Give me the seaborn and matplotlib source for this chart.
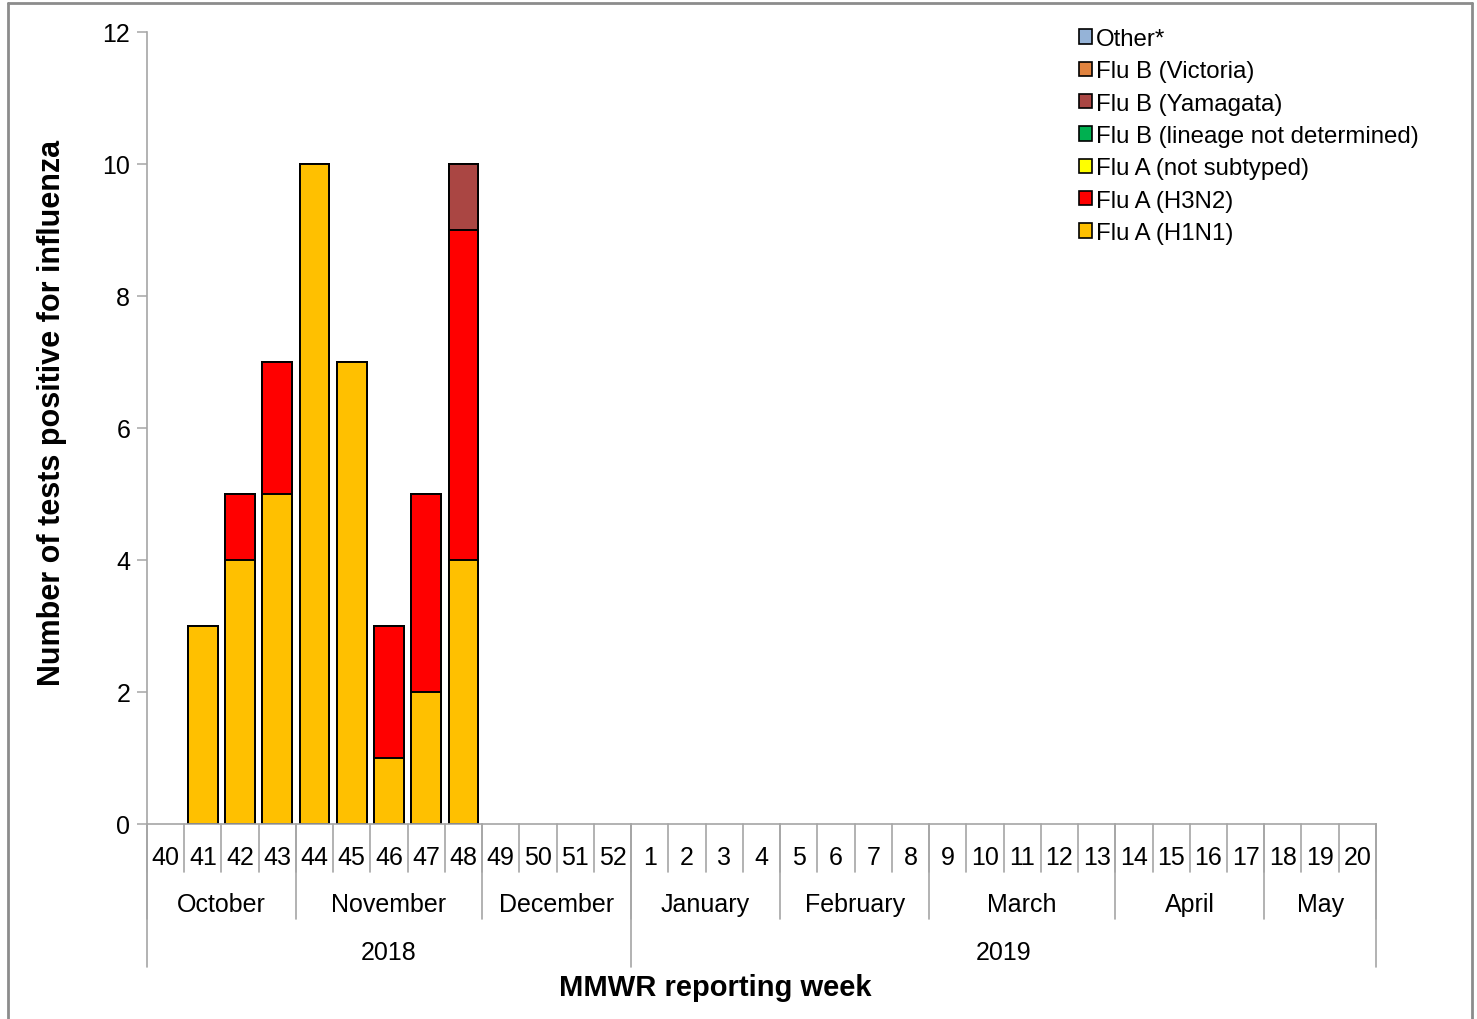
import numpy as np
import matplotlib
matplotlib.use("Agg")
import matplotlib.pyplot as plt
from matplotlib.patches import Patch
from matplotlib.lines import Line2D
import seaborn as sns

# data
weeks = [str(w) for w in range(40, 53)] + [str(w) for w in range(1, 21)]
months = ["October", "November", "December", "January", "February", "March", "April", "May"]
month_len = [4, 5, 4, 4, 4, 5, 4, 3]
years = ["2018", "2019"]
year_len = [13, 20]

series = ["Flu A (H1N1)", "Flu A (H3N2)", "Flu A (not subtyped)",
          "Flu B (lineage not determined)", "Flu B (Yamagata)", "Flu B (Victoria)", "Other*"]
colors = ["#FFC000", "#FF0000", "#FFFF00", "#00B050", "#AA4643", "#E0833F", "#95B3D7"]

h1n1 = [0, 3, 4, 5, 10, 7, 1, 2, 4] + [0] * 24
h3n2 = [0, 0, 1, 2, 0, 0, 2, 3, 5] + [0] * 24
a_nst = [0] * 33
b_nd = [0] * 33
yamagata = [0, 0, 0, 0, 0, 0, 0, 0, 1] + [0] * 24
victoria = [0] * 33
other = [0] * 33

vals = np.array([h1n1, h3n2, a_nst, b_nd, yamagata, victoria, other], dtype=float)
cum = vals.cumsum(axis=0)

sns.set_style("white")
plt.rcParams["font.family"] = ["Liberation Sans", "DejaVu Sans"]
plt.rcParams["text.color"] = "black"
plt.rcParams["ytick.labelcolor"] = "black"

fig = plt.figure(figsize=(14.77, 10.20), dpi=100)
ax = fig.add_axes([0.0995, 0.1912, 0.8321, 0.7765])

# stacked bars: draw cumulative totals from the top layer down
for i in range(len(series) - 1, -1, -1):
    sns.barplot(x=weeks, y=cum[i], order=weeks, color=colors[i], saturation=1,
                edgecolor="black", linewidth=1.4, width=0.8, ax=ax)

for p in ax.patches:
    if p.get_height() == 0:
        p.set_visible(False)

grey = "#A6A6A6"
ax.set_xlim(-0.5, len(weeks) - 0.5)
ax.set_ylim(0, 12)
ax.set_yticks(range(0, 13, 2))
ax.tick_params(axis="y", labelsize=18, length=7, width=1.1, color=grey, pad=5, left=True,
               labelcolor="black")
ax.set_xticks([])
ax.set_xlabel("")
ax.set_ylabel("")
sns.despine(ax=ax)
for s in ["left", "bottom"]:
    ax.spines[s].set_color(grey)
    ax.spines[s].set_linewidth(1.2)

# multi-level category axis
trans = ax.get_xaxis_transform()
lk = dict(color=grey, lw=1.2, transform=trans, clip_on=False)
for i, w in enumerate(weeks):
    ax.text(i, -0.042, w, ha="center", va="center", fontsize=18, transform=trans)
for i in range(len(weeks) + 1):
    ax.plot([i - 0.5, i - 0.5], [0, -0.061], **lk)

start = 0
for m, n in zip(months, month_len):
    ax.text(start + (n - 1) / 2, -0.101, m, ha="center", va="center", fontsize=18, transform=trans)
    ax.plot([start - 0.5, start - 0.5], [0, -0.12], **lk)
    start += n
ax.plot([start - 0.5, start - 0.5], [0, -0.12], **lk)

start = 0
for y, n in zip(years, year_len):
    ax.text(start + (n - 1) / 2, -0.162, y, ha="center", va="center", fontsize=18, transform=trans)
    ax.plot([start - 0.5, start - 0.5], [0, -0.181], **lk)
    start += n
ax.plot([start - 0.5, start - 0.5], [0, -0.181], **lk)

fig.text(715 / 1477, 1 - 988 / 1020, "MMWR reporting week", ha="center", va="center",
         fontsize=21, fontweight="bold")
fig.text(52 / 1477, 1 - 413 / 1020, "Number of tests positive for influenza", ha="center",
         va="center", rotation=90, fontsize=22, fontweight="bold")

handles = [Patch(facecolor=colors[i], edgecolor="black", linewidth=1.2, label=series[i])
           for i in range(len(series) - 1, -1, -1)]
fig.legend(handles=handles, loc="upper left", bbox_to_anchor=(1079 / 1477, 1 - 29 / 1020),
           frameon=False, fontsize=17.3, handlelength=0.55, handleheight=0.55,
           handletextpad=0.15, labelspacing=0.43, borderpad=0, borderaxespad=0)

# outer frame of the picture
fc = "#8C8C8C"
fig.add_artist(Line2D([8 / 1477, 8 / 1477], [0, 1 - 4 / 1020], color=fc, lw=2, transform=fig.transFigure))
fig.add_artist(Line2D([8 / 1477, 1472 / 1477], [1 - 4 / 1020, 1 - 4 / 1020], color=fc, lw=2, transform=fig.transFigure))
fig.add_artist(Line2D([1472 / 1477, 1472 / 1477], [0, 1 - 4 / 1020], color=fc, lw=2, transform=fig.transFigure))

fig.savefig("out.png", dpi=100)
